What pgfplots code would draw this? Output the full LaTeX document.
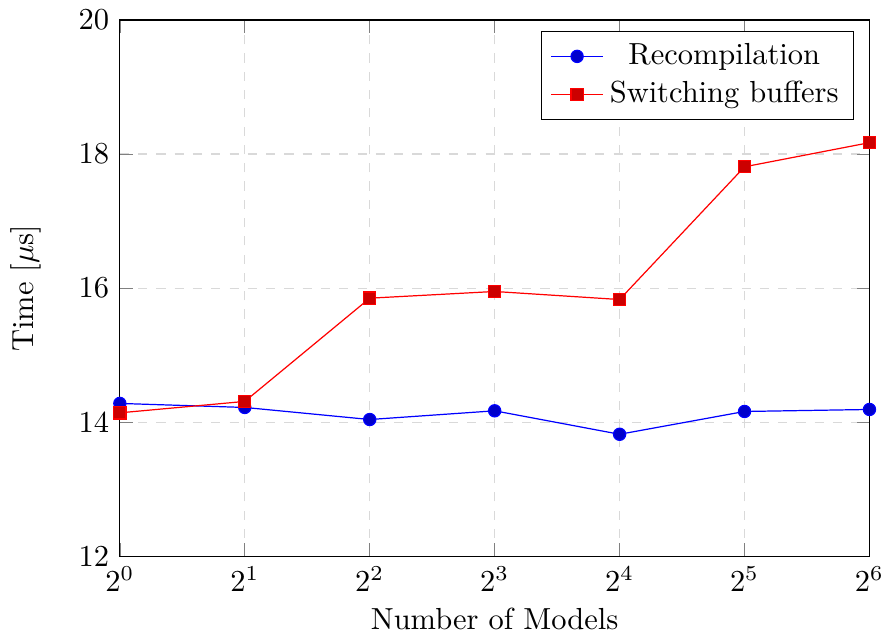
\documentclass[border=0pt]{standalone}
\usepackage{pgfplots}
\pgfplotsset{compat=1.18}
\begin{document}
\begin{tikzpicture}
\begin{axis}[scale only axis,width=246pt,height=176pt,
  xmode=log,log basis x=2,xmin=1,xmax=64,ymin=12,ymax=20,
  xlabel={Number of Models},ylabel={Time [$\mu$s]},
  every axis x label/.style={at={(axis description cs:0.5,0)},below,yshift=-13.5pt},
  every axis y label/.style={at={(axis description cs:0,0.5)},xshift=-31pt,rotate=90},
  grid=major,grid style={dashed,gray!30},
  legend style={at={(0.98,0.98)},anchor=north east},legend cell align=center]
\addplot coordinates {(1,14.28) (2,14.22) (4,14.04) (8,14.17) (16,13.82) (32,14.16) (64,14.19)};
\addlegendentry{Recompilation}
\addplot coordinates {(1,14.14) (2,14.31) (4,15.85) (8,15.95) (16,15.83) (32,17.81) (64,18.17)};
\addlegendentry{Switching buffers}
\end{axis}
\end{tikzpicture}
\end{document}
